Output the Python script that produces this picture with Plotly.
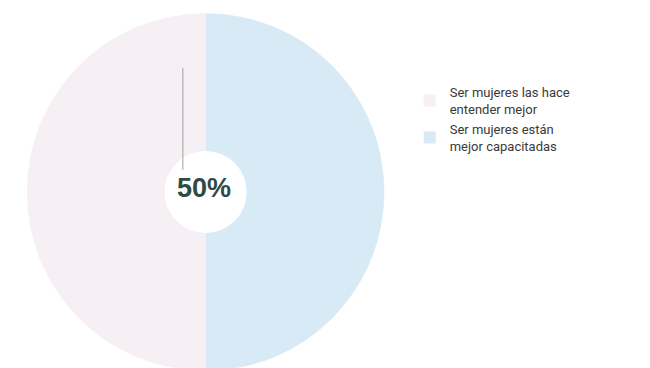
import plotly.graph_objects as go

labels = ["Ser mujeres las hace<br>entender mejor", "Ser mujeres están<br>mejor capacitadas"]
values = [50, 50]
colors = ["#f6eff3", "#d8eaf6"]
center_label = "50%"

fig = go.Figure()
fig.add_trace(go.Pie(
    labels=labels,
    values=values,
    hole=0.23,
    sort=False,
    direction="clockwise",
    rotation=180,
    textinfo="none",
    marker=dict(colors=colors, line=dict(width=0)),
    domain=dict(x=[0.029, 0.579], y=[0.01, 0.99]),
))

fig.add_annotation(
    x=0.3015, y=0.51, xref="paper", yref="paper",
    xanchor="center", yanchor="middle",
    text="<b>" + center_label + "</b>", showarrow=False,
    font=dict(size=27, color="#2f4a44", family="Liberation Sans, Arial, sans-serif"),
)
fig.add_shape(type="line", xref="paper", yref="paper",
              x0=0.269, x1=0.269, y0=0.56, y1=0.837,
              line=dict(color="#a0a0a0", width=1))

fig.update_layout(
    width=650, height=368,
    margin=dict(l=0, r=0, t=0, b=0),
    paper_bgcolor="white",
    plot_bgcolor="white",
    showlegend=True,
    legend=dict(
        x=0.618, y=0.812, xanchor="left", yanchor="top",
        font=dict(size=13, color="#3a3a3a", family="Roboto, Liberation Sans, sans-serif"),
        tracegroupgap=0, itemsizing="constant",
    ),
)

fig.write_html("out.html")
